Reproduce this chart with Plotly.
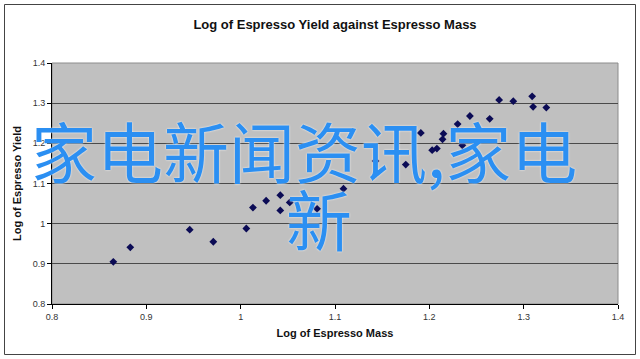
import plotly.graph_objects as go

# Data
log_mass = [0.865, 0.883, 0.946, 0.971, 1.006, 1.013, 1.027, 1.042, 1.042, 1.052,
            1.081, 1.109, 1.143, 1.175, 1.191, 1.203, 1.208, 1.214, 1.215, 1.230,
            1.235, 1.243, 1.264, 1.274, 1.289, 1.309, 1.310, 1.324]
log_yield = [0.905, 0.941, 0.985, 0.955, 0.988, 1.040, 1.057, 1.071, 1.033, 1.053,
             1.037, 1.087, 1.156, 1.147, 1.226, 1.183, 1.187, 1.210, 1.224, 1.248,
             1.195, 1.268, 1.261, 1.308, 1.305, 1.317, 1.291, 1.289]

x_ticks = [0.8, 0.9, 1.0, 1.1, 1.2, 1.3, 1.4]
x_tick_labels = ["0.8", "0.9", "1", "1.1", "1.2", "1.3", "1.4"]
y_ticks = [0.8, 0.9, 1.0, 1.1, 1.2, 1.3, 1.4]
y_tick_labels = ["0.8", "0.9", "1", "1.1", "1.2", "1.3", "1.4"]

title_text = "Log of Espresso Yield against Espresso Mass"
x_title = "Log of Espresso Mass"
y_title = "Log of Espresso Yield"
overlay_line1 = "家电新闻资讯,家电"
overlay_line2 = "新"

W, H = 640, 359
L, R, T, B = 52, 22, 63, 55
pw, ph = W - L - R, H - T - B


def px(xp):
    return (xp - L) / pw


def py(yp):
    return (H - B - yp) / ph


fig = go.Figure()
fig.add_trace(go.Scatter(
    x=log_mass, y=log_yield, mode="markers",
    marker=dict(symbol="diamond", size=6, color="#0b0b55"),
    showlegend=False, hoverinfo="skip",
))

axis_font = dict(family="Liberation Sans, Arial, sans-serif", size=9, color="#333333")
fig.update_layout(
    width=W, height=H,
    margin=dict(l=L, r=R, t=T, b=B),
    paper_bgcolor="white",
    plot_bgcolor="#c0c0c0",
    title=dict(text="<b>" + title_text + "</b>", x=0.5, xref="paper", xanchor="center",
               y=1 - 24 / H, yanchor="middle",
               font=dict(family="Liberation Sans, Arial, sans-serif", size=13, color="#111111")),
    xaxis=dict(range=[0.8, 1.4], tickvals=x_ticks, ticktext=x_tick_labels,
               showgrid=False, zeroline=False,
               showline=True, linecolor="#000000", linewidth=1,
               ticks="outside", ticklen=4, tickcolor="#000000",
               tickfont=axis_font,
               title=dict(text="<b>" + x_title + "</b>", standoff=8,
                          font=dict(family="Liberation Sans, Arial, sans-serif", size=11, color="#111111"))),
    yaxis=dict(range=[0.8, 1.4], tickvals=y_ticks, ticktext=y_tick_labels,
               showgrid=True, gridcolor="#4a4a4a", gridwidth=1, zeroline=False,
               showline=True, linecolor="#000000", linewidth=1,
               ticks="outside", ticklen=4, tickcolor="#000000",
               tickfont=axis_font,
               title=dict(text="<b>" + y_title + "</b>", standoff=8,
                          font=dict(family="Liberation Sans, Arial, sans-serif", size=11, color="#111111"))),
    shapes=[
        dict(type="rect", xref="paper", yref="paper", x0=0, x1=1, y0=0, y1=1,
             line=dict(color="#8c8c8c", width=1), layer="below"),
        dict(type="rect", xref="paper", yref="paper",
             x0=px(4.5), x1=px(635.5), y0=py(354.5), y1=py(4.5),
             line=dict(color="#444444", width=1)),
    ],
)

# Single two-line overlay text; base size sets the line pitch, spans set glyph size
span = '<span style="font-size:66px">{}</span>'
overlay_text = span.format(overlay_line1) + "<br>" + span.format("\u00a0\u00a0" + overlay_line2)
fig.add_annotation(text=overlay_text, xref="paper", yref="paper",
                   x=px(304), y=py(183), xanchor="center", yanchor="middle",
                   align="center", showarrow=False,
                   font=dict(family="Noto Sans CJK SC", size=52, color="#2b8ff2",
                             shadow="0px 0px 2px white"))

fig.write_html("out.html")
